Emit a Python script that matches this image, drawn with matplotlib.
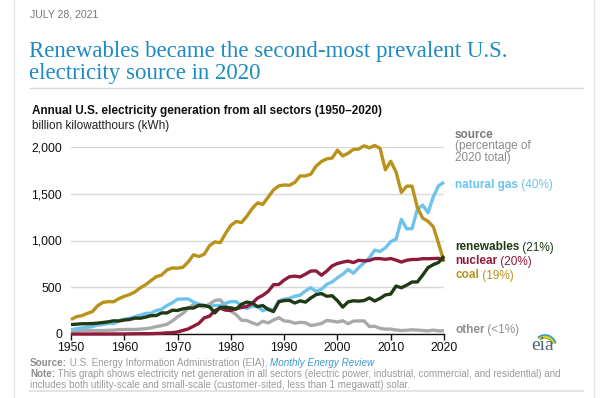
import matplotlib
matplotlib.use("Agg")
import matplotlib.pyplot as plt
from matplotlib.patches import Arc
import numpy as np

years = list(range(1950, 2021))

coal = [154.5, 185.2, 195.4, 218.8, 239.1, 301.4, 338.5, 346.4, 344.4, 378.4,
        403.1, 421.9, 450.2, 493.9, 526.2, 570.9, 613.5, 630.5, 684.9, 706.0,
        704.4, 713.1, 771.1, 847.7, 828.4, 852.8, 944.4, 985.2, 975.7, 1075.0,
        1161.6, 1203.2, 1192.0, 1259.4, 1341.7, 1402.1, 1385.8, 1463.8, 1540.7, 1583.8,
        1594.0, 1590.6, 1621.2, 1690.1, 1690.7, 1709.4, 1795.2, 1845.0, 1873.5, 1881.1,
        1966.3, 1904.0, 1933.1, 1973.7, 1978.3, 2012.9, 1990.5, 2016.5, 1985.8, 1755.9,
        1847.3, 1733.4, 1514.0, 1581.1, 1581.7, 1352.4, 1239.1, 1205.8, 1146.0, 965.0,
        773.4]

natural_gas = [44.6, 56.6, 64.4, 72.0, 80.0, 95.3, 101.0, 114.0, 111.0, 142.0,
               158.0, 169.0, 184.0, 202.0, 220.0, 222.0, 251.0, 264.8, 304.4, 333.3,
               372.9, 374.0, 375.7, 340.9, 320.1, 299.8, 294.6, 305.5, 305.4, 329.5,
               346.2, 345.8, 305.3, 274.1, 297.4, 291.9, 248.5, 272.6, 252.8, 352.6,
               372.8, 381.6, 404.1, 414.9, 460.2, 496.1, 455.1, 479.4, 531.3, 556.4,
               601.0, 639.1, 691.0, 649.9, 710.1, 761.0, 816.4, 896.6, 883.0, 921.0,
               987.7, 1013.7, 1225.9, 1124.8, 1126.6, 1333.5, 1378.3, 1296.4, 1469.1, 1586.2,
               1624.0]

nuclear = [0, 0, 0, 0, 0, 0, 0, 0, 0.2, 0.2,
           0.5, 1.7, 2.3, 3.2, 3.3, 3.7, 5.5, 7.7, 12.5, 13.9,
           21.8, 38.1, 54.1, 83.5, 114.0, 172.5, 191.1, 250.9, 276.4, 255.2,
           251.1, 272.7, 282.8, 293.7, 327.6, 383.7, 414.0, 455.3, 527.0, 529.4,
           576.9, 612.6, 618.8, 610.3, 640.4, 673.4, 674.7, 628.6, 673.7, 728.3,
           753.9, 768.8, 780.1, 763.7, 788.5, 782.0, 787.2, 806.4, 806.2, 798.9,
           807.0, 790.2, 769.3, 789.0, 797.2, 797.2, 805.7, 805.0, 807.1, 809.4,
           789.9]

renewables = [100.9, 104.9, 109.7, 109.6, 112.0, 116.2, 123.0, 130.2, 141.0, 138.9,
              149.4, 155.1, 169.8, 168.7, 180.3, 196.0, 197.6, 225.6, 225.0, 253.6,
              251.5, 269.0, 278.3, 277.5, 306.4, 305.8, 289.6, 225.7, 285.9, 285.0,
              279.4, 265.5, 318.5, 341.8, 330.7, 293.3, 304.1, 262.7, 240.0, 345.0,
              357.2, 359.6, 331.4, 354.5, 340.9, 384.8, 421.4, 432.2, 403.7, 409.4,
              356.5, 287.7, 343.6, 355.3, 351.5, 357.7, 385.8, 352.7, 380.9, 417.7,
              427.4, 513.0, 494.6, 522.5, 556.0, 556.5, 630.0, 710.0, 742.0, 766.0,
              834.0]

other = [33.7, 37.2, 38.9, 40.0, 37.4, 37.1, 36.7, 40.0, 40.4, 46.9,
         48.0, 49.0, 48.5, 52.0, 57.0, 64.8, 79.6, 89.3, 104.3, 138.3,
         184.2, 220.2, 274.3, 314.3, 300.9, 289.1, 320.0, 358.2, 365.1, 303.5,
         246.0, 206.4, 146.8, 144.5, 119.8, 100.2, 136.6, 118.5, 148.9, 175.0,
         140.0, 135.0, 115.0, 125.0, 120.0, 90.0, 100.0, 112.0, 145.0, 138.0,
         128.0, 142.0, 110.0, 138.0, 140.0, 140.0, 80.0, 82.0, 60.0, 52.0,
         52.0, 43.0, 37.0, 40.0, 45.0, 42.0, 38.0, 33.0, 42.0, 33.0,
         35.0]

y_ticks = [0, 500, 1000, 1500, 2000]
y_labels = ["0", "500", "1,000", "1,500", "2,000"]
x_ticks = [1950, 1960, 1970, 1980, 1990, 2000, 2010, 2020]

label_names = ["natural gas", "renewables", "nuclear", "coal", "other"]
label_pcts = [" (40%)", " (21%)", " (20%)", " (19%)", " (<1%)"]

C_COAL = "#B8921B"
C_GAS = "#6CC3EC"
C_NUC = "#8E1B3B"
C_REN = "#1F3A14"
C_OTH = "#A9A9A9"

plt.rcParams['font.family'] = ['Liberation Sans', 'DejaVu Sans']

W, H = 600, 398
fig = plt.figure(figsize=(6.0, 3.98), dpi=100)

def fx(x):
    return x / W

def fy(y):
    return 1 - y / H

# page frame
fig.add_artist(plt.Line2D([fx(14), fx(14)], [0, 1], color="#E6E6E6", lw=1))
fig.add_artist(plt.Line2D([fx(594), fx(594)], [0, 1], color="#E6E6E6", lw=1))
fig.add_artist(plt.Line2D([fx(30), fx(583)], [fy(88), fy(88)], color="#DADADA", lw=1))
fig.add_artist(plt.Line2D([fx(30), fx(583)], [fy(391), fy(391)], color="#E3E3E3", lw=1.5))

fig.text(fx(30), fy(17.5), "JULY 28, 2021", fontsize=7.6, color="#777777", va="baseline")
fig.text(fx(29), fy(57), "Renewables became the second-most prevalent U.S.",
         family="Liberation Serif", fontsize=16.5, color="#1E8BC3", va="baseline")
fig.text(fx(29), fy(78.5), "electricity source in 2020",
         family="Liberation Serif", fontsize=16.5, color="#1E8BC3", va="baseline")

fig.text(fx(32), fy(114), "Annual U.S. electricity generation from all sectors (1950\u20132020)",
         fontsize=8.5, fontweight="bold", color="#111111", va="baseline")
fig.text(fx(32), fy(128.5), "billion kilowatthours (kWh)", fontsize=8.5, color="#222222", va="baseline")

ax = fig.add_axes([fx(71), fy(334), fx(444) - fx(71), fy(147) - fy(334)])
ax.set_xlim(1950, 2020)
ax.set_ylim(0, 2000)
for s in ["top", "right", "left"]:
    ax.spines[s].set_visible(False)
ax.spines["bottom"].set_color("#111111")
ax.spines["bottom"].set_linewidth(1.0)
ax.set_yticks(y_ticks)
ax.set_yticklabels(y_labels)
ax.set_xticks(x_ticks)
ax.set_xticklabels([str(t) for t in x_ticks])
ax.tick_params(axis="y", length=0, pad=6.5, labelsize=8.8, labelcolor="#111111")
ax.tick_params(axis="x", length=4, width=1, color="#111111", pad=2, labelsize=8.8, labelcolor="#111111")
ax.grid(axis="y", color="#D9D9D9", lw=1)
ax.set_axisbelow(True)

lw = 2.4
ax.plot(years, other, color=C_OTH, lw=lw, zorder=2, clip_on=False, solid_capstyle="butt")
ax.plot(years, natural_gas, color=C_GAS, lw=lw, zorder=3, clip_on=False, solid_capstyle="butt")
ax.plot(years, coal, color=C_COAL, lw=lw, zorder=4, clip_on=False, solid_capstyle="butt")
ax.plot(years, nuclear, color=C_NUC, lw=lw, zorder=5, clip_on=False, solid_capstyle="butt")
ax.plot(years, renewables, color=C_REN, lw=lw, zorder=6, clip_on=False, solid_capstyle="butt")

renderer = fig.canvas.get_renderer()

def run(x, y, parts, size=8.5):
    xx = x
    for txt, color, weight, style in parts:
        t = fig.text(fx(xx), fy(y), txt, fontsize=size, color=color, fontweight=weight,
                     style=style, va="baseline")
        bb = t.get_window_extent(renderer)
        xx += bb.width
    return xx

LX = 455
run(LX, 137.5, [("source", "#7A7A7A", "bold", "normal")])
run(LX, 149.5, [("(percentage of", "#8A8A8A", "normal", "normal")])
run(LX, 161.5, [("2020 total)", "#8A8A8A", "normal", "normal")])
label_colors = [C_GAS, C_REN, C_NUC, C_COAL, "#8F8F8F"]
label_y = [188, 250.5, 264.5, 278.5, 333]
for name, pct, col, yy in zip(label_names, label_pcts, label_colors, label_y):
    run(LX, yy, [(name, col, "bold", "normal"), (pct, col, "normal", "normal")])

# eia logo
fig.text(fx(543), fy(350), "eia", family="Liberation Serif", fontsize=14, color="#4F6475",
         ha="center", va="baseline")
for r, col in [(8, "#8DC63F"), (9.5, "#F2C300"), (11, "#2E9AD0")]:
    arc = Arc((fx(545), fy(346)), 2 * r / W, 2 * r / H, theta1=20, theta2=120,
              color=col, lw=1.2, transform=fig.transFigure)
    fig.add_artist(arc)

NS = 7.1
run(30, 366, [("Source:", "#8C8C8C", "bold", "normal"),
              (" U.S. Energy Information Administration (EIA), ", "#9A9A9A", "normal", "normal"),
              ("Monthly Energy Review", "#3A98CF", "normal", "italic")], size=NS)
run(30, 377, [("Note:", "#8C8C8C", "bold", "normal"),
              (" This graph shows electricity net generation in all sectors (electric power, industrial, commercial, and residential) and",
               "#9A9A9A", "normal", "normal")], size=NS)
run(30, 387.5, [("includes both utility-scale and small-scale (customer-sited, less than 1 megawatt) solar.",
                 "#9A9A9A", "normal", "normal")], size=NS)

fig.savefig("out.png", dpi=100)
